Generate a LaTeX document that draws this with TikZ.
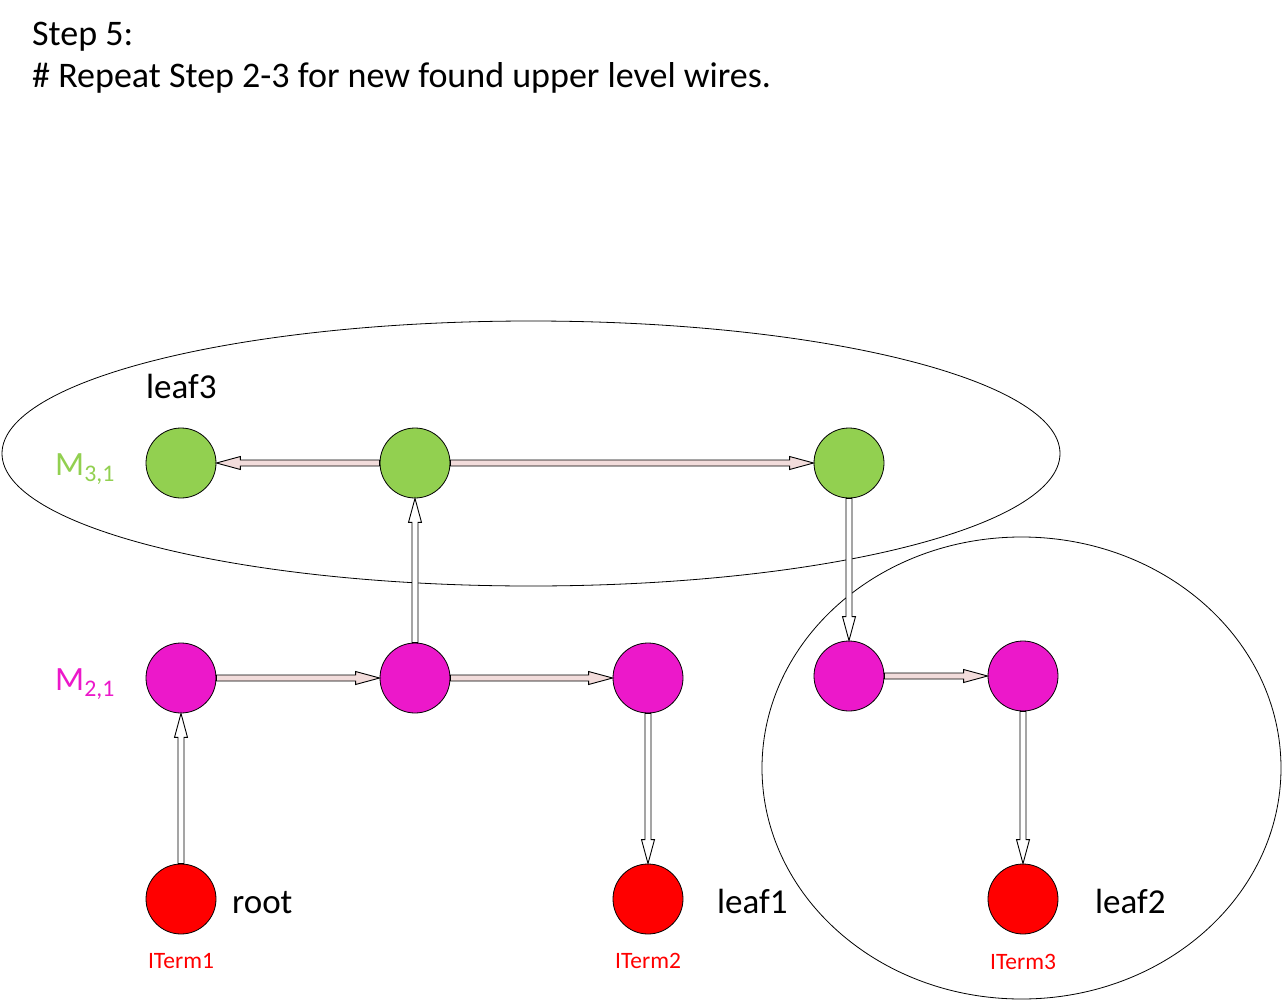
\documentclass[tikz,border=0pt]{standalone}
\usepackage{fontspec}
\setmainfont{Carlito}
\usetikzlibrary{calc}
\definecolor{gfill}{HTML}{92D050}
\definecolor{mfill}{HTML}{EC18CA}
\definecolor{rfill}{HTML}{FF0000}
\definecolor{pinkarrow}{HTML}{F2DCDB}
\newcommand{\blockarrow}[3]{%
  \path (#2) -- coordinate[pos=0] (bs) coordinate[pos=1] (be) (#3);
  \coordinate (bh) at ($(be)!24pt!(bs)$);
  \draw[fill=#1, line width=0.9pt, line join=miter]
    ($(bs)!3pt!90:(be)$) -- ($(bh)!3pt!-90:(bs)$) -- ($(bh)!6.5pt!-90:(bs)$) -- (be)
    -- ($(bh)!6.5pt!90:(bs)$) -- ($(bh)!3pt!90:(bs)$) -- ($(bs)!3pt!-90:(be)$) -- cycle;
}
\tikzset{
  dot/.style={circle, draw, line width=0.8pt, minimum size=70pt, inner sep=0pt},
  gdot/.style={dot, fill=gfill},
  mdot/.style={dot, fill=mfill},
  rdot/.style={dot, fill=rfill},
  titletxt/.style={font=\fontsize{36}{43}\selectfont, inner sep=0pt, anchor=base west},
  bigtxt/.style={font=\fontsize{35}{42}\selectfont, inner sep=0pt, anchor=base west},
  termtxt/.style={font=\fontsize{23.5}{28}\selectfont, text=rfill, inner sep=0pt, anchor=base},
  lvltxt/.style={font=\fontsize{34}{40}\selectfont, inner sep=0pt, anchor=base west},
}
\begin{document}
\begin{tikzpicture}[x=1pt, y=-1pt]
\useasboundingbox (0,0) rectangle (1283,1001);
\fill[white] (0,0) rectangle (1283,1001);
% title
\node[titletxt] (t1) at (32,45) {Step 5:};
\node[titletxt] (t2) at (32,87) {\# Repeat Step 2-3 for new found upper level wires.};
% ellipses
\draw[line width=0.8pt] (531,453.5) ellipse [x radius=529pt, y radius=132.5pt];
\draw[line width=0.8pt] (1021.5,768) ellipse [x radius=259.5pt, y radius=231pt];
% nodes
\node[gdot] (g1) at (181,463) {};
\node[gdot] (g2) at (415,463) {};
\node[gdot] (g3) at (849,463) {};
\node[mdot] (m1) at (181,678) {};
\node[mdot] (m2) at (415,678) {};
\node[mdot] (m3) at (648,678) {};
\node[mdot] (m4) at (849,676) {};
\node[mdot] (m5) at (1023,676) {};
\node[rdot] (r1) at (181,899) {};
\node[rdot] (r2) at (648,899) {};
\node[rdot] (r3) at (1023,899) {};
% labels
\node[bigtxt] (lleaf3) at (146,398) {leaf3};
\node[bigtxt] (lroot) at (232,913) {root};
\node[bigtxt] (lleaf1) at (717,913) {leaf1};
\node[bigtxt] (lleaf2) at (1095,913) {leaf2};
\node[lvltxt, text=gfill] (lm3) at (55,475) {M\textsubscript{3,1}};
\node[lvltxt, text=mfill] (lm2) at (55,690) {M\textsubscript{2,1}};
\node[termtxt] (it1) at (181,968) {ITerm1};
\node[termtxt] (it2) at (648,968) {ITerm2};
\node[termtxt] (it3) at (1023,969) {ITerm3};
% arrows
\blockarrow{pinkarrow}{g2}{g1}
\blockarrow{pinkarrow}{g2}{g3}
\blockarrow{white}{m2}{g2}
\blockarrow{white}{g3}{m4}
\blockarrow{pinkarrow}{m1}{m2}
\blockarrow{pinkarrow}{m2}{m3}
\blockarrow{pinkarrow}{m4}{m5}
\blockarrow{white}{r1}{m1}
\blockarrow{white}{m3}{r2}
\blockarrow{white}{m5}{r3}
\end{tikzpicture}
\end{document}
